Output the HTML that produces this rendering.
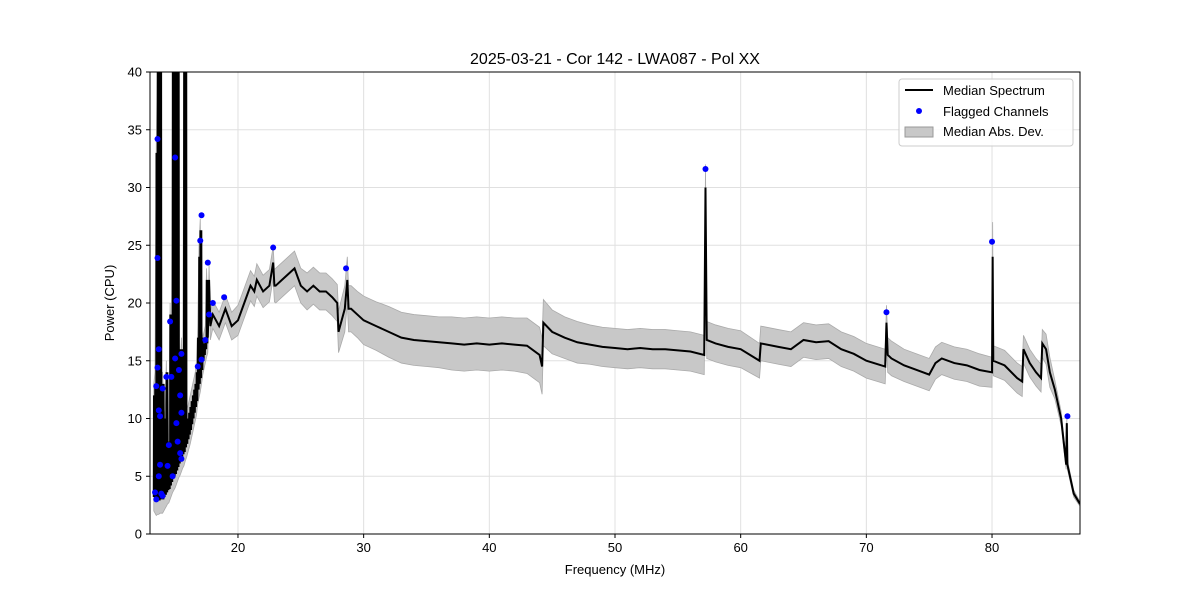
<!DOCTYPE html>
<html><head><meta charset="utf-8"><style>
body{margin:0;background:#fff;font-family:"Liberation Sans",sans-serif}
svg text{font-family:"Liberation Sans",sans-serif}
</style></head><body>
<svg id="chart" width="1200" height="600" xmlns="http://www.w3.org/2000/svg">
<defs><clipPath id="clip"><rect x="150" y="72" width="930" height="462"/></clipPath></defs>
<rect width="1200" height="600" fill="#fff"/>
<text x="615" y="64" font-size="16" text-anchor="middle">2025-03-21 - Cor 142 - LWA087 - Pol XX</text>
<g id="grid"></g><g id="band" clip-path="url(#clip)"></g><g id="line" clip-path="url(#clip)"></g><g id="pts"></g><g id="axes"></g>
<text x="615" y="574" font-size="13" text-anchor="middle">Frequency (MHz)</text>
<text x="114" y="303" font-size="13" text-anchor="middle" transform="rotate(-90 114 303)">Power (CPU)</text>
<g>
<rect x="899" y="79" width="174" height="67" rx="3" fill="#fff" fill-opacity="0.85" stroke="#ccc"/>
<line x1="905" y1="90" x2="933" y2="90" stroke="#000" stroke-width="2"/>
<text x="943" y="95" font-size="13">Median Spectrum</text>
<circle cx="919" cy="111" r="3" fill="#0000ff"/>
<text x="943" y="116" font-size="13">Flagged Channels</text>
<rect x="905" y="127" width="28" height="10" fill="#c8c8c8" stroke="#999"/>
<text x="943" y="136" font-size="13">Median Abs. Dev.</text>
</g>
</svg>
<script>
const zigFreq=[13.3,13.4,13.5,13.6,13.7,13.8,13.9,14.0,14.1,14.2,14.3,14.4,14.5,14.6,14.7,14.8,14.9,15.0,15.1,15.2,15.3,15.4,15.5,15.6,15.7,15.8,15.9,16.0,16.1,16.2,16.3,16.4,16.5,16.6,16.7,16.8,16.9,17.0,17.1,17.2,17.3,17.4,17.5];
const zigHigh=[12,13,33,40,40,40,13,13,10,9,14,8,7,19,14,40,40,40,40,40,16,13,16,12,40,40,10,10,10.5,11,11.5,12,12.5,13,14,17,24,26.3,17,16,16.5,17,22];
const zigLow=[3.2,3.0,2.8,2.9,2.9,3.0,3.0,3.0,3.2,3.4,3.6,3.8,3.9,4.2,4.5,4.8,5,5.2,5.5,5.8,6.1,6.3,6.6,6.9,7.1,7.5,7.8,8.2,8.6,9.0,9.5,10,10.5,11,11.5,12.5,13,13.5,14.2,15,15.5,16,16.5];
const freqs=[17.6,17.7,17.8,18,18.5,19,19.5,20,20.5,21,21.3,21.5,22,22.5,22.8,22.9,23,23.5,24,24.5,25,25.5,26,26.5,27,27.5,27.9,28,28.5,28.7,28.8,29,29.5,30,31,32,33,34,35,36,37,38,39,40,41,42,43,44,44.2,44.3,45,46,47,48,49,50,51,52,53,54,55,56,57.1,57.2,57.3,58,59,60,61.5,61.6,63,64,65,66,67,68,69,70,71.5,71.6,71.7,72,73,74,75,75.5,76,77,78,79,80,80.05,80.1,81,82,82.4,82.5,83,83.5,83.9,84,84.3,84.6,85,85.5,85.9,85.95,86,86.5,87];
const median=[17,22,18,19,18,19.5,18,18.5,20,21.5,21,22,21,21.5,23.5,21.5,21.5,22,22.5,23,21.5,21,21.5,21,21,20.5,20,17.5,19.5,22,19.5,19.5,19,18.5,18,17.5,17,16.8,16.7,16.6,16.5,16.4,16.5,16.4,16.5,16.4,16.3,15.5,14.5,18.3,17.5,17,16.6,16.4,16.2,16.1,16,16.1,16,16,15.9,15.8,15.5,30,16.8,16.5,16.2,16,15,16.5,16.2,16,16.8,16.6,16.7,16,15.6,15,14.5,18.3,15.5,15.2,14.6,14.2,13.8,14.8,15.2,14.8,14.6,14.2,14,24,15,14.6,13.5,13.2,16,14.8,14,13.5,16.5,16,14,12.5,10,6,9.6,6,3.5,2.6];
const spread=[1.3,1.3,1.2,1.2,1.2,1.2,1.2,1.3,1.3,1.3,1.3,1.4,1.4,1.4,1.4,1.4,1.5,1.5,1.5,1.5,1.5,1.6,1.6,1.6,1.6,1.6,1.6,1.8,2.0,2.0,2.0,2.0,2.0,2.1,2.1,2.2,2.2,2.2,2.2,2.2,2.3,2.3,2.3,2.3,2.3,2.3,2.4,2.4,2.4,2.0,1.9,1.8,1.8,1.7,1.7,1.7,1.7,1.7,1.7,1.7,1.7,1.7,1.7,2.0,1.6,1.6,1.6,1.6,1.5,1.5,1.5,1.5,1.5,1.5,1.5,1.5,1.5,1.5,1.5,1.5,1.5,1.5,1.4,1.4,1.4,1.4,1.4,1.4,1.4,1.4,1.3,3.0,1.3,1.3,1.3,1.3,1.2,1.2,1.2,1.2,1.2,1.3,1.3,0.8,0.6,0.4,0.4,0.4,0.3,0.2,0.1];
const flagF=[13.4,13.5,13.6,13.6,13.6,13.7,13.7,13.8,13.8,13.7,13.5,13.9,14.0,14.0,14.3,14.4,14.5,14.6,14.7,14.8,15.0,15.0,15.1,15.1,15.2,15.3,15.4,15.5,15.5,15.4,15.5,16.8,17.0,17.1,17.1,17.4,17.6,17.7,18.0,18.9,22.8,28.6,57.2,71.6,80.0,86.0];
const flagP=[3.6,12.8,34.2,23.9,14.4,16,10.7,10.2,6,5,3,3.5,12.6,3.3,13.6,5.9,7.7,18.4,13.6,5,32.6,15.2,20.2,9.6,8,14.2,12,15.6,10.5,7,6.5,14.5,25.4,27.6,15.1,16.8,23.5,19,20,20.5,24.8,23,31.6,19.2,25.3,10.2];
const xTicks=[20,30,40,50,60,70,80];
const yTicks=[0,5,10,15,20,25,30,35,40];
const X0=150,X1=1080,Y0=534,Y1=72,FMIN=13,FMAX=87,PMAX=40;
const sx=f=>X0+(f-FMIN)/(FMAX-FMIN)*(X1-X0);
const sy=p=>Y0-Math.min(p,PMAX+2)/PMAX*(Y0-Y1);
const NS='http://www.w3.org/2000/svg';
function mk(tag,parent,attrs){const e=document.createElementNS(NS,tag);for(const k in attrs)e.setAttribute(k,attrs[k]);document.getElementById(parent).appendChild(e);return e;}
xTicks.forEach(t=>{
 const g=mk('line','grid',{x1:sx(t),x2:sx(t),y1:Y1,y2:Y0,stroke:'#e0e0e0','stroke-width':1});
 
 
 mk('line','axes',{x1:sx(t),x2:sx(t),y1:Y0,y2:Y0+4,stroke:'#000'});
 const tx=mk('text','axes',{x:sx(t),y:Y0+18,'font-size':13,'text-anchor':'middle'});tx.textContent=t;
 
 
});
yTicks.forEach(t=>{
 const g=mk('line','grid',{x1:X0,x2:X1,y1:sy(t),y2:sy(t),stroke:'#e0e0e0','stroke-width':1});
 
 
 mk('line','axes',{x1:X0-4,x2:X0,y1:sy(t),y2:sy(t),stroke:'#000'});
 const tx=mk('text','axes',{x:X0-8,y:sy(t)+4.5,'font-size':13,'text-anchor':'end'});tx.textContent=t;
 
 
});
mk('rect','axes',{x:X0,y:Y1,width:X1-X0,height:Y0-Y1,fill:'none',stroke:'#000','stroke-width':1});
let up=[],dn=[];
zigFreq.forEach((f,i)=>{up.push(sx(f)+','+sy(zigHigh[i]+1));dn.push(sx(f)+','+sy(Math.max(zigLow[i]-1.2,0)));});
freqs.forEach((f,i)=>{up.push(sx(f)+','+sy(median[i]+spread[i]));dn.push(sx(f)+','+sy(Math.max(median[i]-spread[i],0)));});
const band=mk('polygon','band',{points:up.concat(dn.reverse()).join(' '),fill:'#c8c8c8',stroke:'#aaa','stroke-width':0.8});


let pts=[];
zigFreq.forEach((f,i)=>{const n=6;for(let k=0;k<n;k++){const ff=f+k*0.1/n;pts.push(sx(ff)+','+sy(k%2?zigHigh[i]:zigLow[i]));}});
freqs.forEach((f,i)=>pts.push(sx(f)+','+sy(median[i])));
const ln=mk('polyline','line',{points:pts.join(' '),fill:'none',stroke:'#000','stroke-width':2,'stroke-linejoin':'miter'});


flagF.forEach((f,i)=>{
 const c=mk('circle','pts',{cx:sx(f),cy:sy(flagP[i]),r:3,fill:'#0000ff'});
 
 
});
</script>
</body></html>
